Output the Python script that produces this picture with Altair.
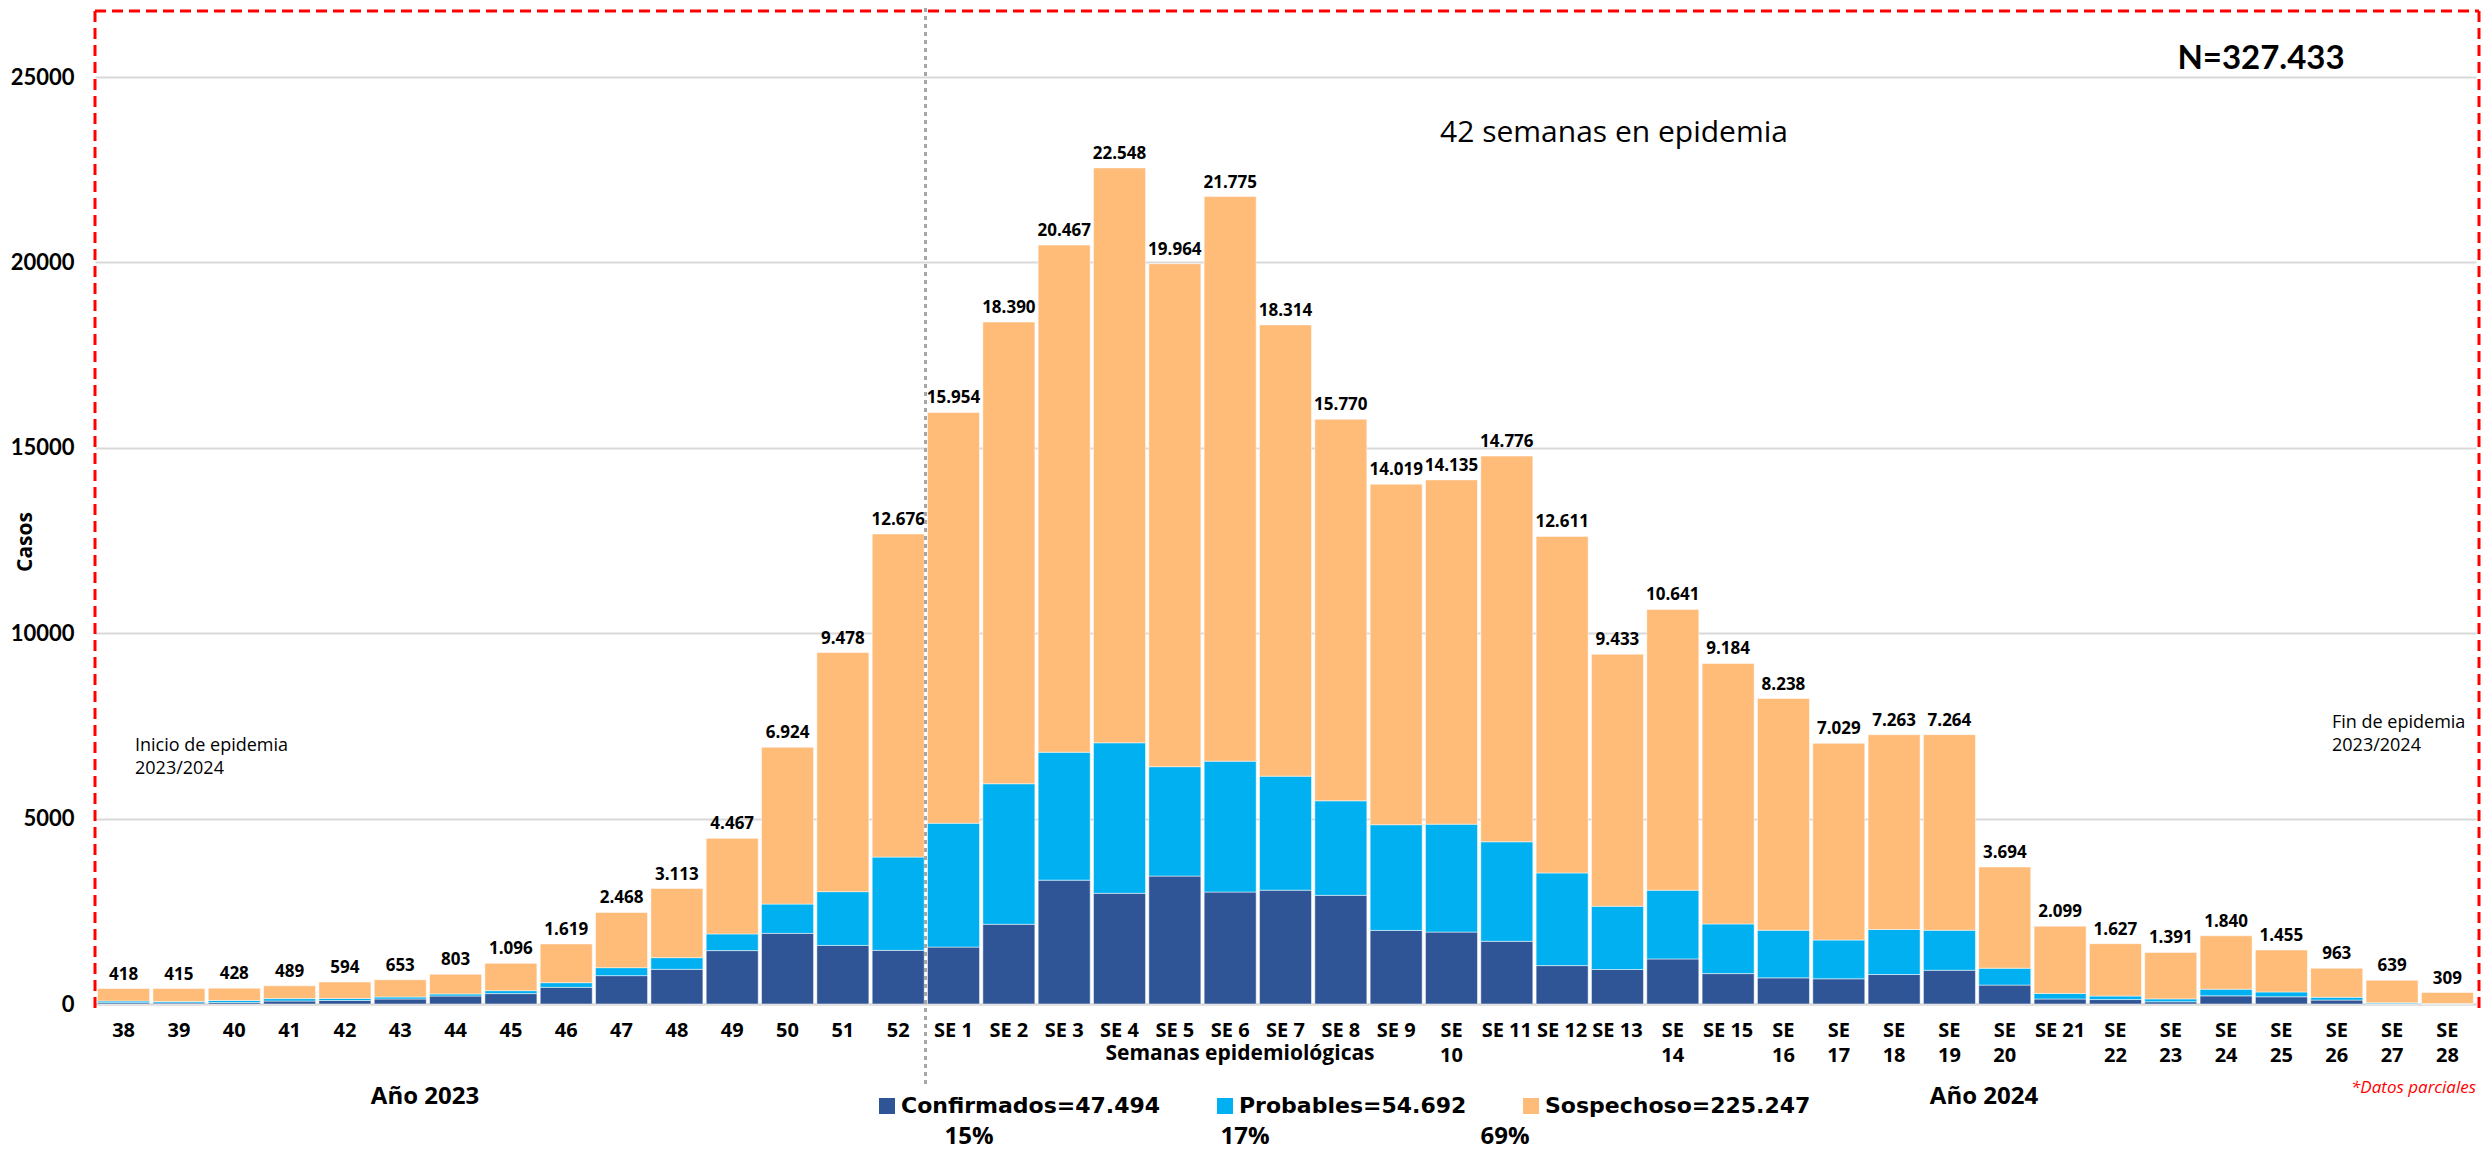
import altair as alt
import pandas as pd

# ---------------- data ----------------
semanas = ["38", "39", "40", "41", "42", "43", "44", "45", "46", "47", "48", "49", "50", "51", "52",
           "SE 1", "SE 2", "SE 3", "SE 4", "SE 5", "SE 6", "SE 7", "SE 8", "SE 9", "SE 10",
           "SE 11", "SE 12", "SE 13", "SE 14", "SE 15", "SE 16", "SE 17", "SE 18", "SE 19", "SE 20",
           "SE 21", "SE 22", "SE 23", "SE 24", "SE 25", "SE 26", "SE 27", "SE 28"]

# labels that wrap onto two lines in the original
etiquetas_dos_lineas = ["SE 10", "SE 14", "SE 16", "SE 17", "SE 18", "SE 19", "SE 20",
                        "SE 22", "SE 23", "SE 24", "SE 25", "SE 26", "SE 27", "SE 28"]

totales = [418, 415, 428, 489, 594, 653, 803, 1096, 1619, 2468, 3113, 4467, 6924, 9478, 12676,
           15954, 18390, 20467, 22548, 19964, 21775, 18314, 15770, 14019, 14135,
           14776, 12611, 9433, 10641, 9184, 8238, 7029, 7263, 7264, 3694,
           2099, 1627, 1391, 1840, 1455, 963, 639, 309]

confirmados = [35, 30, 40, 80, 95, 135, 215, 280, 450, 765, 935, 1440, 1905, 1580, 1447,
               1535, 2150, 3340, 2985, 3450, 3020, 3070, 2930, 1985, 1940,
               1690, 1035, 930, 1215, 820, 705, 680, 795, 910, 510,
               135, 120, 60, 220, 195, 105, 8, 3]

probables = [45, 40, 55, 65, 55, 55, 55, 80, 125, 215, 315, 450, 790, 1450, 2515,
             3340, 3790, 3450, 4060, 2950, 3530, 3075, 2550, 2850, 2910,
             2685, 2500, 1705, 1855, 1340, 1285, 1045, 1215, 1080, 455,
             150, 95, 78, 180, 130, 75, 26, 8]

series = ["Confirmados=47.494", "Probables=54.692", "Sospechoso=225.247"]
colores = ["#2f5597", "#00b0f0", "#ffbb78"]
porcentajes = ["15%", "17%", "69%"]


def miles(v):
    return f"{v:,}".replace(",", ".")


rows = []
for i, s in enumerate(semanas):
    c, p, t = confirmados[i], probables[i], totales[i]
    rows.append({"semana": s, "serie": series[0], "valor": c, "orden": 0})
    rows.append({"semana": s, "serie": series[1], "valor": p, "orden": 1})
    rows.append({"semana": s, "serie": series[2], "valor": t - c - p, "orden": 2})
df = pd.DataFrame(rows)
df_tot = pd.DataFrame({"semana": semanas, "total": totales,
                       "etiqueta": [miles(v) for v in totales]})

# ---------------- layout ----------------
W, H = 2381, 993
YMAX = 26780
BOLD = "Open Sans"
WIDE = "DejaVu Sans"

wrap_list = "[" + ",".join(f"'{w}'" for w in etiquetas_dos_lineas) + "]"
label_expr = f"indexof({wrap_list}, datum.value) >= 0 ? split(datum.value, ' ') : datum.value"

xenc = alt.X("semana:N", sort=semanas,
             scale=alt.Scale(domain=semanas, paddingInner=0.06, paddingOuter=0.047),
             axis=alt.Axis(title=None, labelAngle=0, labelFont=BOLD, labelFontSize=20,
                           labelFontWeight="bold", labelColor="black", labelPadding=16,
                           ticks=False, domainColor="#d9d9d9", domainWidth=2,
                           labelLineHeight=25, labelExpr=label_expr, labelOverlap=False,
                           grid=False))

bars = alt.Chart(df).mark_bar(stroke="white", strokeWidth=0.5).encode(
    x=xenc,
    y=alt.Y("valor:Q", stack="zero",
            scale=alt.Scale(domain=[0, YMAX], nice=False),
            axis=alt.Axis(values=[0, 5000, 10000, 15000, 20000, 25000], format="d",
                          title=None, labelFont="Lato", labelFontSize=22,
                          labelFontWeight="bold", labelColor="black", labelPadding=21,
                          ticks=False, domain=False, gridColor="#d9d9d9", gridWidth=2)),
    color=alt.Color("serie:N", scale=alt.Scale(domain=series, range=colores),
                    legend=alt.Legend(orient="none", legendX=781, legendY=1084,
                                      direction="horizontal", title=None,
                                      symbolType="square", symbolSize=256,
                                      symbolStrokeWidth=0, labelFont=WIDE,
                                      labelFontSize=22, labelFontWeight="bold",
                                      labelColor="black", columnPadding=53,
                                      labelOffset=3, padding=0, labelLimit=500)),
    order=alt.Order("orden:Q"),
)

valores = alt.Chart(df_tot).mark_text(baseline="bottom", dy=-5, font=BOLD, fontSize=17,
                                      fontWeight="bold", color="black").encode(
    x=alt.X("semana:N", sort=semanas),
    y=alt.Y("total:Q"),
    text="etiqueta:N",
)

# vertical dotted separator between 2023 and 2024
sep = alt.Chart(pd.DataFrame({"semana": ["SE 1"]})).mark_rule(
    color="#a6a6a6", strokeDash=[4, 4], strokeWidth=3, xOffset=-2).encode(
    x=alt.X("semana:N", sort=semanas, bandPosition=0),
    y=alt.value(-3), y2=alt.value(1076))

one = pd.DataFrame({"a": [0]})
dash = [11, 6]
rojo = "#ff0000"
box_top = alt.Chart(one).mark_rule(color=rojo, strokeDash=dash, strokeWidth=3).encode(
    x=alt.value(0), x2=alt.value(W + 3), y=alt.value(0))
box_left = alt.Chart(one).mark_rule(color=rojo, strokeDash=dash, strokeWidth=3).encode(
    x=alt.value(0), y=alt.value(0), y2=alt.value(H + 4))
box_right = alt.Chart(one).mark_rule(color=rojo, strokeDash=dash, strokeWidth=3).encode(
    x=alt.value(W + 3), y=alt.value(0), y2=alt.value(H + 10))


def txt(text, x, y, font=BOLD, size=20, weight="bold", align="center",
        baseline="middle", color="black", angle=0, style="normal", lh=23):
    kw = dict(font=font, fontSize=size, fontWeight=weight, align=align,
              baseline=baseline, color=color, fontStyle=style, lineHeight=lh)
    if angle:
        kw["angle"] = angle
    return alt.Chart(one).mark_text(**kw).encode(
        x=alt.value(x), y=alt.value(y), text=alt.value(text))


anots = [
    txt("N=327.433", 2166, 48, font="Lato", size=33),
    txt("42 semanas en epidemia", 1519, 122, font="Open Sans", size=30, weight="normal"),
    txt(["Inicio de epidemia", "2023/2024"], 40, 726, font="Open Sans", size=18,
        weight="normal", align="left", baseline="top"),
    txt(["Fin de epidemia", "2023/2024"], 2237, 703, font="Open Sans", size=18,
        weight="normal", align="left", baseline="top"),
    txt("*Datos parciales", 2256, 1077, font="Open Sans", size=17, weight="normal",
        align="left", color=rojo, style="italic"),
    txt("Semanas epidemiológicas", 1145, 1043, size=21),
    txt("Año 2023", 330, 1086, size=24),
    txt("Año 2024", 1889, 1086, size=24),
    txt("Casos", -69, 531, size=21, angle=270),
    txt(porcentajes[0], 874, 1126, size=24),
    txt(porcentajes[1], 1150, 1126, size=24),
    txt(porcentajes[2], 1410, 1126, size=24),
]

chart = alt.layer(bars, valores, sep, box_top, box_left, box_right, *anots).properties(
    width=W, height=H,
    padding={"left": 87, "top": 3, "right": 5, "bottom": 149},
    autosize=alt.AutoSizeParams(type="none"),
    background="white",
).configure_view(strokeWidth=0)

chart.save("out.html", embed_options={"renderer": "svg", "actions": False})
